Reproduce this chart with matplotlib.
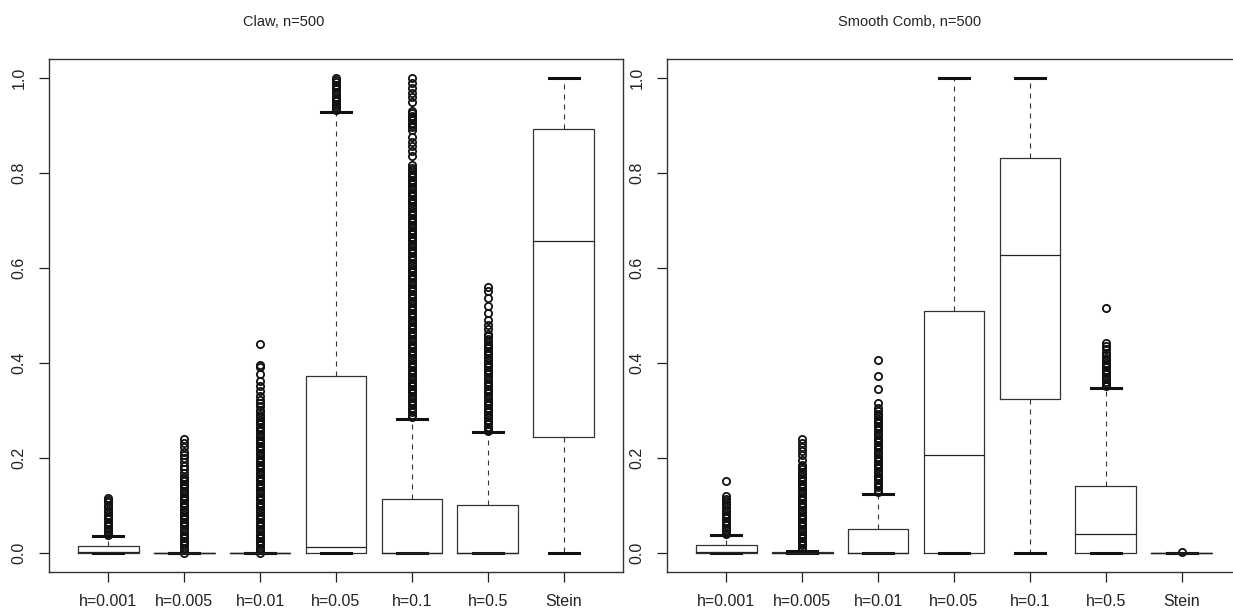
import matplotlib
matplotlib.use("Agg")
import matplotlib.pyplot as plt

# boxplot of estimated weights, two test densities, n=500
labels = ["h=0.001", "h=0.005", "h=0.01", "h=0.05", "h=0.1", "h=0.5", "Stein"]

# Claw
claw_q1 = [0.0, 0.0, 0.0, 0.0, 0.0, 0.0, 0.243]
claw_med = [0.001, 0.0, 0.0, 0.012, 0.0, 0.0, 0.656]
claw_q3 = [0.013, 0.0, 0.0, 0.372, 0.113, 0.101, 0.892]
claw_lo = [0.0, 0.0, 0.0, 0.0, 0.0, 0.0, 0.0]
claw_hi = [0.034, 0.0, 0.0, 0.928, 0.281, 0.254, 1.0]

claw_out_1 = [0.036, 0.040, 0.045, 0.050, 0.055, 0.060, 0.065, 0.070, 0.075, 0.080,
              0.085, 0.090, 0.095, 0.100, 0.106, 0.110, 0.114]
claw_out_2 = [0.000, 0.005, 0.010, 0.015, 0.020, 0.025, 0.030, 0.035, 0.040, 0.045,
              0.050, 0.055, 0.060, 0.065, 0.070, 0.075, 0.080, 0.085, 0.090, 0.095,
              0.100, 0.105, 0.110, 0.115, 0.120, 0.125, 0.130, 0.135, 0.140, 0.145,
              0.150, 0.155, 0.160, 0.168, 0.175, 0.183, 0.190, 0.198, 0.205, 0.212,
              0.222, 0.230, 0.238]
claw_out_3 = [0.000, 0.005, 0.010, 0.015, 0.020, 0.025, 0.030, 0.035, 0.040, 0.045,
              0.050, 0.055, 0.060, 0.065, 0.070, 0.075, 0.080, 0.085, 0.090, 0.095,
              0.100, 0.105, 0.110, 0.115, 0.120, 0.125, 0.130, 0.135, 0.140, 0.145,
              0.150, 0.155, 0.160, 0.165, 0.170, 0.175, 0.180, 0.185, 0.190, 0.195,
              0.200, 0.205, 0.210, 0.215, 0.220, 0.225, 0.230, 0.235, 0.240, 0.245,
              0.250, 0.255, 0.260, 0.265, 0.270, 0.275, 0.280, 0.285, 0.290, 0.295,
              0.300, 0.308, 0.315, 0.322, 0.330, 0.340, 0.350, 0.362, 0.375, 0.390,
              0.395, 0.440]
claw_out_4 = [0.932, 0.936, 0.940, 0.945, 0.950, 0.955, 0.960, 0.965, 0.970, 0.975,
              0.980, 0.985, 0.990, 0.995, 1.000]
claw_out_5 = [0.285, 0.290, 0.295, 0.300, 0.305, 0.310, 0.315, 0.320, 0.325, 0.330,
              0.335, 0.340, 0.345, 0.350, 0.355, 0.360, 0.365, 0.370, 0.375, 0.380,
              0.385, 0.390, 0.395, 0.400, 0.405, 0.410, 0.415, 0.420, 0.425, 0.430,
              0.435, 0.440, 0.445, 0.450, 0.455, 0.460, 0.465, 0.470, 0.475, 0.480,
              0.485, 0.490, 0.495, 0.500, 0.505, 0.510, 0.515, 0.520, 0.525, 0.530,
              0.535, 0.540, 0.545, 0.550, 0.555, 0.560, 0.565, 0.570, 0.575, 0.580,
              0.585, 0.590, 0.595, 0.600, 0.605, 0.610, 0.615, 0.620, 0.625, 0.630,
              0.635, 0.640, 0.645, 0.650, 0.655, 0.660, 0.665, 0.670, 0.675, 0.680,
              0.685, 0.690, 0.695, 0.700, 0.705, 0.710, 0.715, 0.720, 0.725, 0.730,
              0.735, 0.740, 0.745, 0.750, 0.755, 0.760, 0.765, 0.770, 0.775, 0.780,
              0.785, 0.790, 0.795, 0.800, 0.805, 0.810, 0.815, 0.835, 0.845, 0.855,
              0.865, 0.875, 0.890, 0.895, 0.900, 0.905, 0.910, 0.915, 0.920, 0.925,
              0.930, 0.948, 0.958, 0.968, 0.978, 0.988, 0.998]
claw_out_6 = [0.255, 0.260, 0.265, 0.270, 0.275, 0.280, 0.285, 0.290, 0.295, 0.300,
              0.305, 0.310, 0.315, 0.320, 0.325, 0.330, 0.335, 0.340, 0.345, 0.350,
              0.355, 0.360, 0.365, 0.370, 0.375, 0.380, 0.385, 0.390, 0.395, 0.400,
              0.405, 0.410, 0.415, 0.420, 0.425, 0.430, 0.435, 0.440, 0.445, 0.450,
              0.455, 0.460, 0.470, 0.480, 0.490, 0.505, 0.520, 0.535, 0.550, 0.560]
claw_out_7 = []

# Smooth Comb
comb_q1 = [0.0, 0.0, 0.0, 0.0, 0.323, 0.0, 0.0]
comb_med = [0.001, 0.0, 0.0, 0.205, 0.627, 0.038, 0.0]
comb_q3 = [0.015, 0.002, 0.049, 0.509, 0.831, 0.140, 0.0]
comb_lo = [0.0, 0.0, 0.0, 0.0, 0.0, 0.0, 0.0]
comb_hi = [0.036, 0.004, 0.124, 1.0, 1.0, 0.346, 0.0]

comb_out_1 = [0.038, 0.042, 0.047, 0.052, 0.057, 0.062, 0.067, 0.072, 0.077, 0.082,
              0.087, 0.092, 0.097, 0.102, 0.108, 0.113, 0.120, 0.151]
comb_out_2 = [0.005, 0.010, 0.015, 0.020, 0.025, 0.030, 0.035, 0.040, 0.045, 0.050,
              0.055, 0.060, 0.065, 0.070, 0.075, 0.080, 0.085, 0.090, 0.095, 0.100,
              0.105, 0.110, 0.115, 0.120, 0.125, 0.130, 0.135, 0.140, 0.145, 0.150,
              0.155, 0.160, 0.165, 0.170, 0.175, 0.180, 0.185, 0.195, 0.205, 0.213,
              0.222, 0.230, 0.238]
comb_out_3 = [0.127, 0.132, 0.137, 0.142, 0.147, 0.152, 0.157, 0.162, 0.167, 0.172,
              0.177, 0.182, 0.187, 0.192, 0.197, 0.202, 0.207, 0.212, 0.217, 0.222,
              0.227, 0.232, 0.237, 0.242, 0.247, 0.252, 0.257, 0.262, 0.267, 0.272,
              0.277, 0.282, 0.287, 0.292, 0.297, 0.305, 0.315, 0.345, 0.372, 0.405]
comb_out_4 = []
comb_out_5 = []
comb_out_6 = [0.350, 0.355, 0.360, 0.365, 0.370, 0.375, 0.380, 0.385, 0.390, 0.395,
              0.400, 0.405, 0.410, 0.415, 0.420, 0.428, 0.435, 0.442, 0.515]
comb_out_7 = [0.001]

claw_out = [claw_out_1, claw_out_2, claw_out_3, claw_out_4, claw_out_5, claw_out_6, claw_out_7]
comb_out = [comb_out_1, comb_out_2, comb_out_3, comb_out_4, comb_out_5, comb_out_6, comb_out_7]


def make_stats(q1, med, q3, lo, hi, outs):
    stats = []
    for i in range(len(labels)):
        stats.append({"q1": q1[i], "med": med[i], "q3": q3[i],
                      "whislo": lo[i], "whishi": hi[i],
                      "fliers": outs[i], "label": labels[i]})
    return stats


def draw_panel(ax, stats, title, title_x):
    ax.bxp(stats, positions=range(1, len(labels) + 1), widths=0.8, capwidths=0.4,
           showfliers=True,
           boxprops=dict(color="#333333", lw=0.9),
           medianprops=dict(color="#222222", lw=0.9),
           whiskerprops=dict(color="#333333", lw=0.8, linestyle=(0, (4.5, 4.5))),
           capprops=dict(color="#111111", lw=2.2),
           flierprops=dict(marker="o", markerfacecolor="none", markeredgecolor="#111111",
                           markersize=5.2, markeredgewidth=1.3))
    ax.set_xlim(0.22, 7.78)
    ax.set_ylim(-0.04, 1.04)
    ax.set_xticks(range(1, len(labels) + 1))
    ax.set_xticklabels(labels)
    ax.set_yticks([0.0, 0.2, 0.4, 0.6, 0.8, 1.0])
    ax.set_yticklabels(["0.0", "0.2", "0.4", "0.6", "0.8", "1.0"], rotation=90, va="center")
    ax.tick_params(axis="both", length=7, width=0.9, pad=9, labelsize=11.5,
                   color="#222222", labelcolor="#222222")
    for sp in ax.spines.values():
        sp.set_color("#333333")
        sp.set_linewidth(1.0)
    # titles sit a bit left of the panel centre in the original
    ax.figure.text(title_x / 1233, 1 - 22 / 614, title,
                   ha="center", va="center", fontsize=10.5, color="#222222")


plt.rcParams["font.family"] = ["Liberation Sans", "DejaVu Sans"]
fig = plt.figure(figsize=(12.33, 6.14), dpi=100)

ax1 = fig.add_axes([49 / 1233, 1 - 571.5 / 614, 574 / 1233, 513 / 614])
ax2 = fig.add_axes([667 / 1233, 1 - 571.5 / 614, 574 / 1233, 513 / 614])

draw_panel(ax1, make_stats(claw_q1, claw_med, claw_q3, claw_lo, claw_hi, claw_out),
           "Claw, n=500", 284)
draw_panel(ax2, make_stats(comb_q1, comb_med, comb_q3, comb_lo, comb_hi, comb_out),
           "Smooth Comb, n=500", 910)

fig.savefig("out.png", dpi=100)
